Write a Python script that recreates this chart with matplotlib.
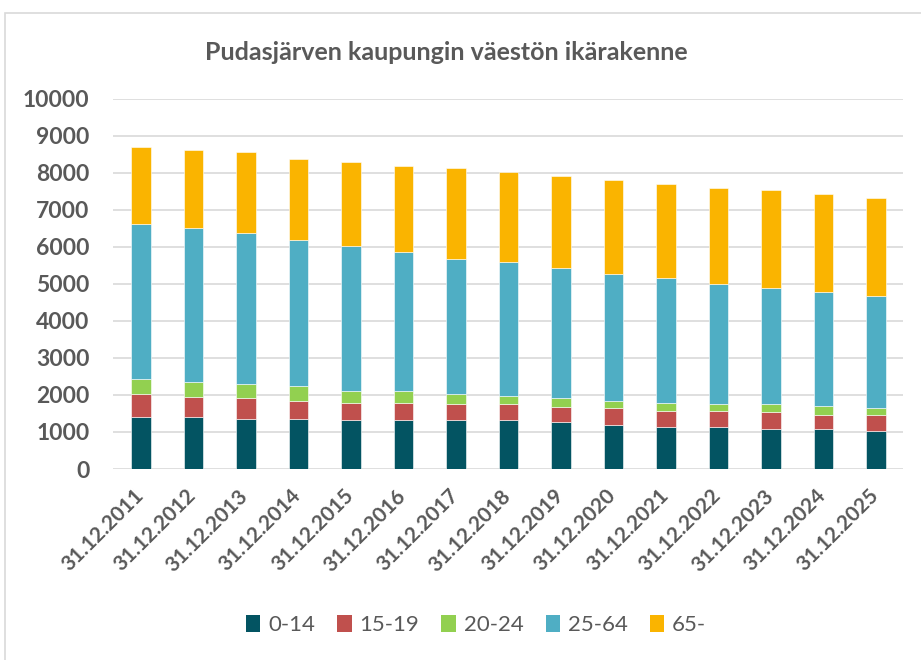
import matplotlib
matplotlib.use("Agg")
import matplotlib.pyplot as plt
from matplotlib.patches import Rectangle, Patch
from matplotlib.transforms import ScaledTranslation
import numpy as np

plt.rcParams['font.family'] = ['Lato', 'DejaVu Sans']

# data
dates = ["31.12.2011", "31.12.2012", "31.12.2013", "31.12.2014", "31.12.2015",
         "31.12.2016", "31.12.2017", "31.12.2018", "31.12.2019", "31.12.2020",
         "31.12.2021", "31.12.2022", "31.12.2023", "31.12.2024", "31.12.2025"]
age_0_14 = [1414, 1410, 1360, 1360, 1315, 1315, 1315, 1315, 1260, 1200, 1145, 1145, 1090, 1090, 1035]
age_15_19 = [604, 545, 550, 487, 478, 478, 433, 433, 424, 442, 433, 433, 442, 378, 432]
age_20_24 = [423, 387, 378, 387, 324, 324, 270, 216, 225, 207, 216, 171, 216, 226, 172]
age_25_64 = [4172, 4163, 4099, 3946, 3901, 3739, 3667, 3622, 3513, 3414, 3360, 3243, 3135, 3081, 3027]
age_65 = [2099, 2108, 2172, 2207, 2270, 2324, 2441, 2432, 2487, 2541, 2541, 2595, 2649, 2648, 2648]

series = [("0-14", age_0_14, "#035462"),
          ("15-19", age_15_19, "#C0504D"),
          ("20-24", age_20_24, "#92D050"),
          ("25-64", age_25_64, "#4FAEC4"),
          ("65-", age_65, "#FAB400")]

text_col = "#595959"
W, H = 921, 660
fig = plt.figure(figsize=(W / 100, H / 100), dpi=100)
ax = fig.add_axes([113 / W, 1 - 469 / H, (903 - 113) / W, (469 - 99) / H])

x = np.arange(len(dates))
bottom = np.zeros(len(dates))
for name, vals, col in series:
    ax.bar(x, vals, width=0.38, bottom=bottom, color=col, edgecolor="white",
           linewidth=0.4, zorder=3)
    bottom += np.array(vals)

ax.set_xlim(-0.533, 14.514)
ax.set_ylim(0, 10000)
ax.set_yticks(range(0, 10001, 1000))
ax.grid(axis="y", color="#D9D9D9", linewidth=1.2, zorder=0)
for s in ax.spines.values():
    s.set_visible(False)
ax.tick_params(axis="both", length=0, colors=text_col)
ax.tick_params(axis="y", pad=17, labelsize=16.5)
ax.set_yticklabels([str(v) for v in range(0, 10001, 1000)], fontweight="bold")
ax.set_xticks(x)
ax.set_xticklabels(dates, rotation=45, ha="right", rotation_mode="anchor",
                   fontweight="bold", fontsize=15)
ax.tick_params(axis="x", pad=12)
shift = ScaledTranslation(-8 / 100, 0, fig.dpi_scale_trans)
for lab in ax.get_xticklabels():
    lab.set_transform(lab.get_transform() + shift)

fig.text(446 / W, 1 - 53 / H, "Pudasjärven kaupungin väestön ikärakenne",
         ha="center", va="center", fontsize=18, fontweight="bold", color=text_col)

handles = [Patch(facecolor=c, label=n) for n, _, c in series]
fig.legend(handles=handles, loc="center", bbox_to_anchor=(476 / W, 1 - 625 / H),
           ncol=5, frameon=False, fontsize=16, handlelength=0.65, handleheight=0.8,
           handletextpad=0.35, columnspacing=1.0, labelcolor=text_col)

# chart area frame (partly cut off at right and bottom)
fig.patches.append(Rectangle((5 / W, -0.1), 1.2, 1 - 13 / H + 0.1, transform=fig.transFigure,
                             fill=False, edgecolor="#D9D9D9", linewidth=1.2))

fig.savefig("out.png", dpi=100)
